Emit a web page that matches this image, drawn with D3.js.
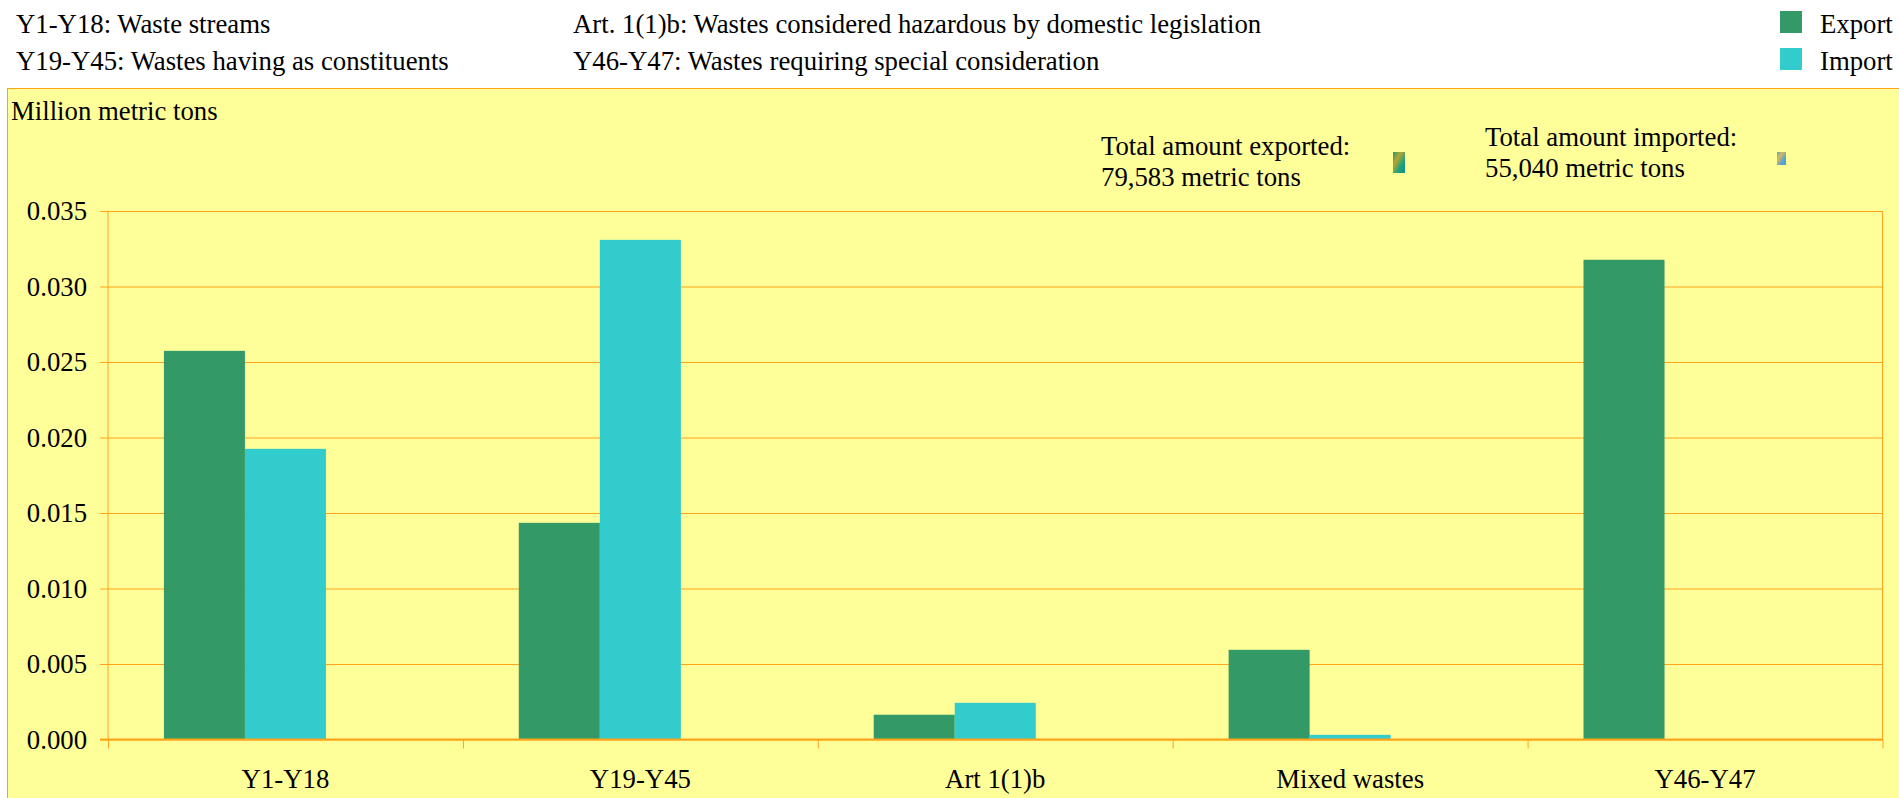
<!DOCTYPE html>
<meta charset="utf-8">
<style>
body { margin: 0; background: #fff; }
svg { display: block; }
text { font-family: "Liberation Serif", serif; font-size: 26.75px; fill: #000; }
.domain { display: none; }
.grid line, .ticks line, .sep line { stroke: #ffa31a; stroke-width: 1px; }
</style>
<svg></svg>
<script src="https://cdn.jsdelivr.net/npm/d3@7/dist/d3.min.js"></script>
<script>

var categories = ['Y1-Y18', 'Y19-Y45', 'Art 1(1)b', 'Mixed wastes', 'Y46-Y47']
var seriesNames = ['Export', 'Import']
var exportValues = [0.02574, 0.01435, 0.00164, 0.00594, 0.03177]
var importValues = [0.01925, 0.03309, 0.00243, 0.00031, 0]
var yTicks = [0, 0.005, 0.01, 0.015, 0.02, 0.025, 0.03, 0.035]
var noteLeft = ['Y1-Y18: Waste streams', 'Y19-Y45: Wastes having as constituents']
var noteRight = ['Art. 1(1)b: Wastes considered hazardous by domestic legislation', 'Y46-Y47: Wastes requiring special consideration']
var totalExport = ['Total amount exported:', '79,583 metric tons']
var totalImport = ['Total amount imported:', '55,040 metric tons']
var yTitle = 'Million metric tons'

var width = 1899,
    height = 798,
    plot = {left: 108, right: 1882.5, top: 211, bottom: 739.5}

var color = d3.scaleOrdinal().domain(seriesNames).range(['#339966', '#33cccc'])

var svg = d3.select('svg').attr('width', width).attr('height', height)

var defs = svg.append('defs')
function iconGradient(id, stops) {
    var g = defs.append('linearGradient').attr('id', id)
                .attr('x1', 0).attr('y1', 0).attr('x2', 1).attr('y2', 1)
    stops.forEach(function (s, i) {
        g.append('stop').attr('offset', i / (stops.length - 1)).attr('stop-color', s)
    })
}
iconGradient('iconExport', ['#1f9a7c', '#b9a32e', '#1fa37a', '#0f8f86'])
iconGradient('iconImport', ['#5aa6d6', '#d8b65a', '#5aa6d6', '#4a9ccc'])

// chart panel
svg.append('rect')
    .attr('x', 7.5).attr('y', 88.5)
    .attr('width', width + 10).attr('height', height)
    .attr('fill', '#ffff99')
    .attr('stroke', '#ffa31a')

var x = d3.scaleBand().domain(categories).range([plot.left, plot.right])
// third slot stays empty, the bars sit left of the category centre
var xSeries = d3.scaleBand().domain(seriesNames.concat(['']))
                .range([0, x.bandwidth()]).paddingInner(0).paddingOuter(0.69)
var xSep = d3.scaleLinear().domain([0, categories.length]).range([plot.left, plot.right])
var y = d3.scaleLinear().domain([0, 0.035]).range([plot.bottom, plot.top])

svg.append('g').attr('class', 'grid')
    .attr('transform', 'translate(' + plot.left + ',0)')
    .call(d3.axisLeft(y).tickValues(yTicks).tickSize(-(plot.right - plot.left)).tickFormat(''))

// plot frame left and right
svg.append('g').attr('class', 'sep')
    .selectAll('line').data([plot.left, plot.right]).enter().append('line')
    .attr('x1', function (d) { return d }).attr('x2', function (d) { return d })
    .attr('y1', plot.top).attr('y2', plot.bottom)

var rows = []
categories.forEach(function (c, i) {
    rows.push({cat: c, name: 'Export', v: exportValues[i]})
    rows.push({cat: c, name: 'Import', v: importValues[i]})
})

svg.append('g').selectAll('rect')
    .data(rows.filter(function (d) { return d.v > 0 }))
    .enter().append('rect')
    .attr('x', function (d) { return x(d.cat) + xSeries(d.name) })
    .attr('y', function (d) { return y(d.v) })
    .attr('width', xSeries.bandwidth())
    .attr('height', function (d) { return y(0) - y(d.v) })
    .attr('fill', function (d) { return color(d.name) })

svg.append('g').attr('class', 'ticks')
    .attr('transform', 'translate(' + plot.left + ',0)')
    .call(d3.axisLeft(y).tickValues(yTicks).tickSize(8).tickPadding(13).tickFormat(d3.format('.3f')))

// base line
svg.append('line')
    .attr('x1', plot.left - 8).attr('x2', plot.right)
    .attr('y1', y(0)).attr('y2', y(0))
    .attr('stroke', '#ffa31a').attr('stroke-width', 2)

svg.append('g').attr('class', 'sep')
    .attr('transform', 'translate(0,' + plot.bottom + ')')
    .call(d3.axisBottom(xSep).tickValues(d3.range(categories.length + 1)).tickSize(9).tickFormat(''))

svg.append('g').attr('class', 'cat')
    .attr('transform', 'translate(0,' + plot.bottom + ')')
    .call(d3.axisBottom(x).tickSize(0).tickPadding(29.5))

// axis sets its own font on the group, put ours back
svg.selectAll('.ticks, .cat').attr('font-family', null).attr('font-size', null)

function textLines(lines, xPos, baselines) {
    lines.forEach(function (t, i) {
        svg.append('text').attr('x', xPos).attr('y', baselines[i]).text(t)
    })
}
textLines(noteLeft, 16, [33, 70])
textLines(noteRight, 573, [33, 70])
textLines(totalExport, 1101, [155, 186])
textLines(totalImport, 1485, [146, 177])
textLines([yTitle], 11, [120])

// legend
seriesNames.forEach(function (n, i) {
    svg.append('rect')
        .attr('x', 1780).attr('y', 11 + i * 37)
        .attr('width', 22).attr('height', 22)
        .attr('fill', color(n))
    svg.append('text').attr('x', 1820).attr('y', 33 + i * 37).text(n)
})

// the two small picture icons beside the totals
svg.append('rect').attr('x', 1393).attr('y', 152).attr('width', 12).attr('height', 21).attr('fill', 'url(#iconExport)')
svg.append('rect').attr('x', 1777).attr('y', 152).attr('width', 9).attr('height', 13).attr('fill', 'url(#iconImport)')

</script>
